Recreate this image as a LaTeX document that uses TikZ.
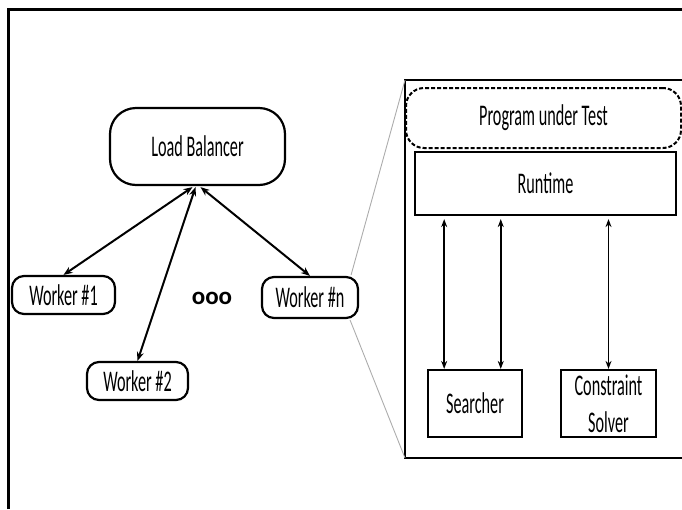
\documentclass[tikz,border=0pt]{standalone}
\usepackage{fontspec}
\setmainfont{Carlito}
\usepackage{graphicx}
\usetikzlibrary{arrows.meta,calc}

% narrow lettering
\newcommand{\nrw}[1]{\scalebox{0.54}[1]{#1}}

\tikzset{
  every node/.style={font=\fontsize{30}{34}\selectfont, inner sep=0pt},
  roundbox/.style={draw, line width=2.2pt, rounded corners=12pt, fill=white},
  plainbox/.style={draw, line width=2.2pt, fill=white},
  dashbox/.style={draw, line width=2pt, dash pattern=on 4pt off 2pt, rounded corners=18pt},
  biarrow/.style={{Stealth[length=9pt,width=7pt]}-{Stealth[length=9pt,width=7pt]}, line width=2pt},
  thinarrow/.style={{Stealth[length=8pt,width=6pt]}-{Stealth[length=8pt,width=6pt]}, line width=1.6pt},
  zoomline/.style={draw=gray!65, line width=0.9pt},
}

\begin{document}
\begin{tikzpicture}[x=1pt, y=-1pt]
\useasboundingbox (0,0) rectangle (682,509);

% outer frame
\draw[line width=3pt] (8.5,509) -- (8.5,9.5) -- (682,9.5);

% cluster side
\node[roundbox, rounded corners=26pt, minimum width=175pt, minimum height=77pt] (lb) at (197.5,146.5) {\nrw{Load Balancer}};
\node[roundbox, minimum width=103pt, minimum height=38pt] (w1) at (63.5,295) {\nrw{Worker \#1}};
\node[roundbox, minimum width=101pt, minimum height=38pt] (w2) at (137.5,381) {\nrw{Worker \#2}};
\node[roundbox, minimum width=96pt, minimum height=41pt] (wn) at (310,297.5) {\nrw{Worker \#n}};
\node[font=\fontsize{25}{30}\bfseries] (dots) at (212,298) {ooo};

\draw[biarrow] ($(lb.south)+(-5,1)$) -- (w1.north);
\draw[biarrow] ($(lb.south)+(-2,1)$) -- (w2.north);
\draw[biarrow] ($(lb.south)+(3,1)$) -- (wn.north);

% worker detail
\coordinate (ctl) at (405,80);
\coordinate (cbl) at (405,458);
\draw[line width=2.5pt] (682,80) -- (ctl) -- (cbl) -- (682,458);

\coordinate (wnt) at ($(wn.north east)+(-8,-1)$);
\coordinate (wnb) at ($(wn.south east)+(-9,1)$);
\draw[zoomline] (wnt) -- (ctl);
\draw[zoomline] (wnb) -- (cbl);

\node[dashbox, minimum width=275pt, minimum height=60pt] (pgm) at (543.5,118) {\nrw{Program under Test}};
\node[plainbox, minimum width=261pt, minimum height=63pt] (rt) at (545.5,183.5) {\nrw{Runtime}};
\node[plainbox, minimum width=94pt, minimum height=67pt] (sr) at (475,403.5) {\nrw{Searcher}};
\node[plainbox, minimum width=95pt, minimum height=67pt, align=center] (cs) at (608.5,403.5) {\nrw{Constraint}\\[3pt]\nrw{Solver}};

\draw[thinarrow, shorten <=3pt] ($(rt.south west)!0.115!(rt.south east)$) coordinate (a1) -- (a1 |- sr.north);
\draw[thinarrow, shorten <=3pt] ($(rt.south west)!0.33!(rt.south east)$) coordinate (a2) -- (a2 |- sr.north);
\draw[thinarrow, shorten <=3pt] (rt.south -| cs.north) -- (cs.north);
\end{tikzpicture}
\end{document}
